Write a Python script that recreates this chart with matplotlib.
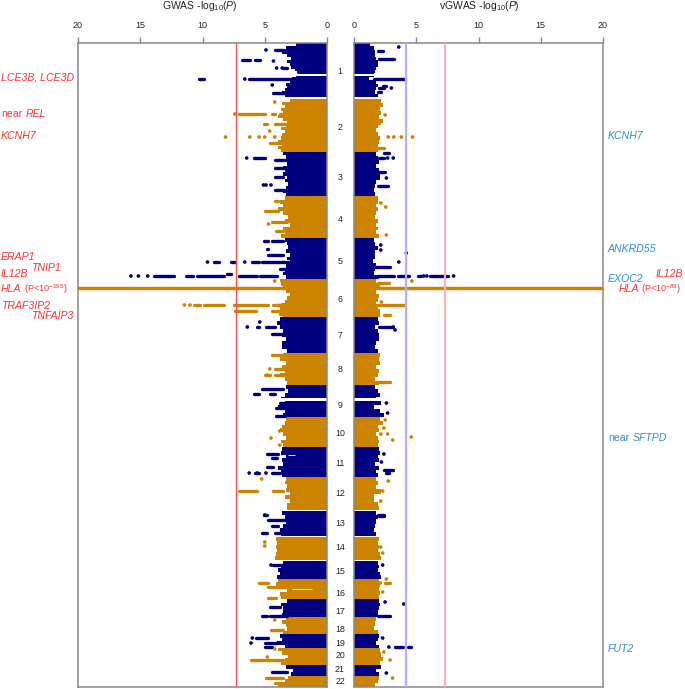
import matplotlib
matplotlib.use("Agg")
import matplotlib.pyplot as plt
import numpy as np

plt.rcParams['font.family'] = ['Liberation Sans', 'DejaVu Sans']
plt.rcParams['mathtext.fontset'] = 'custom'
plt.rcParams['mathtext.rm'] = 'Liberation Sans'
plt.rcParams['mathtext.it'] = 'Liberation Sans:italic'
plt.rcParams['mathtext.default'] = 'regular'

W, H = 685, 689
NAVY, ORANGE = '#000080', '#CC8400'
RED_TXT, BLUE_TXT = '#FF3030', '#2F8BD6'

# chromosome spans along the shared vertical genome axis
chrom_names = [str(i) for i in range(1, 23)]
chrom_start = [43, 99, 152, 196, 238, 279, 317, 353, 385, 417, 447, 477, 511, 537, 561, 579, 599, 617, 634, 648, 665, 676]
chrom_end = [97, 152, 196, 238, 279, 317, 353, 385, 417, 447, 477, 510, 536, 560, 579, 599, 617, 634, 648, 665, 676, 687]
chrom_label_y = [71, 128, 177, 219, 261, 299, 335, 370, 405, 434, 464, 494, 524, 548, 571, 593, 611, 629, 643, 656, 670, 682]
xticks = [0, 5, 10, 15, 20]
gwas_threshold = 7.3
vgwas_thresholds = [4.2, 7.3]

# solid body of each chromosome, from top to bottom, -log10 P
gwas_body = [
    [2.5, 3.3, 3.7, 3.6, 3.2, 2.9, 3.2, 3.0, 2.9, 2.6, 2.4, 2.5, 2.8, 3.0, 3.3, 3.2, 3.4, 3.6, 3.4],
    [3.0, 3.6, 3.4, 3.7, 3.5, 3.9, 3.5, 3.2, 3.3, 3.7, 3.4, 3.6, 3.7, 3.9, 3.6, 3.9, 3.7],
    [3.5, 3.3, 3.4, 3.2, 3.5, 3.4, 3.5, 3.2, 3.4, 3.1, 3.3, 3.5, 3.3],
    [3.4, 3.8, 3.5, 3.9, 3.5, 3.1, 3.4, 3.0, 3.5, 3.4, 3.7],
    [3.4, 3.2, 3.1, 3.3, 3.0, 3.2, 3.0, 3.3, 3.4, 3.5, 3.3],
    [3.8, 3.7, 3.5, 3.3, 3.0, 3.2, 3.4, 3.7, 3.8, 3.6, 3.5],
    [3.8, 4.0, 3.8, 3.5, 3.6, 3.3, 3.6, 3.6, 3.2],
    [3.5, 3.8, 3.3, 3.6, 3.4, 3.8, 3.4, 3.2],
    [3.3, 3.1, 3.4, 3.7, 3.4, 3.9, 3.4, 3.5],
    [3.3, 3.4, 3.6, 3.8, 3.5, 3.3, 3.7, 3.5],
    [3.6, 3.7, 3.3, 3.6, 3.5, 3.9, 3.7, 3.6],
    [3.3, 3.4, 3.2, 3.3, 3.0, 3.4, 3.0, 3.2, 3.2],
    [3.6, 3.4, 3.3, 3.5, 3.8, 3.7],
    [4.1, 4.0, 4.1, 4.0, 4.1, 4.2],
    [3.5, 3.7, 3.9, 3.8, 4.0],
    [3.9, 4.1, 3.8, 3.2, 3.8, 3.7],
    [3.2, 3.7, 3.5, 3.5, 3.6],
    [3.3, 3.6, 3.3, 3.2, 3.5],
    [3.8, 3.6, 4.0, 3.4],
    [3.9, 3.6, 3.1, 3.4, 3.7],
    [3.3, 2.7, 2.9],
    [3.1, 3.4, 3.6, 3.9],
]
vgwas_body = [
    [1.3, 1.6, 1.7, 1.7, 1.8, 1.9, 1.9, 1.8, 1.7, 1.6, 1.2, 1.8, 1.9, 1.8, 1.7, 1.9],
    [2.2, 2.3, 2.1, 2.2, 2.0, 2.3, 1.9, 1.8, 1.9, 2.1, 2.0, 1.9, 1.9],
    [1.8, 1.9, 2.0, 1.8, 2.0, 2.1, 2.1, 1.8, 1.7, 1.6, 1.7],
    [1.9, 1.9, 1.8, 1.9, 1.8, 1.7, 1.9, 1.8, 1.9, 1.8, 2.0],
    [1.6, 1.7, 1.9, 1.7, 1.7, 1.5, 1.8, 1.7, 1.6, 2.0],
    [1.8, 2.1, 2.3, 1.8, 2.0, 1.9, 1.8, 1.9, 2.1, 2.1],
    [1.9, 2.0, 1.7, 1.9, 2.0, 2.0, 1.8, 1.7, 1.9],
    [2.1, 2.0, 2.1, 1.8, 2.0, 1.9, 1.7, 2.0],
    [1.7, 1.9, 2.1, 1.8, 2.2, 1.6, 2.1, 2.4],
    [2.1, 2.3, 1.9, 2.0, 1.8, 1.9, 2.0, 1.9],
    [2.0, 2.1, 1.9, 2.0, 1.7, 2.0, 1.8, 1.9],
    [1.8, 1.9, 1.8, 2.2, 1.6, 1.6, 1.9, 2.0],
    [1.8, 1.9, 1.8, 1.7, 1.6, 1.8],
    [2.0, 1.9, 2.0, 1.9, 2.1, 2.2],
    [1.9, 2.0, 1.9, 2.1, 2.2],
    [2.0, 2.1, 2.0, 2.1, 2.0],
    [2.0, 2.1, 2.0, 1.9, 1.9],
    [1.8, 1.7, 1.6, 1.9],
    [2.0, 1.9, 1.8, 2.0],
    [2.1, 2.2, 2.3, 2.1],
    [2.2, 1.8, 2.0],
    [2.0, 1.9, 1.7],
]

# runs of overlapping points: (genome position, from, to)
gwas_runs = [
    (50, 4.2, 3.5), (50, 3.2, 3.0), (60, 6.8, 6.2), (60, 5.8, 5.4), (68, 3.5, 3.2), (79, 10.3, 9.9), (79, 6.3, 2.7),
    (93, 4.3, 3.4), (114, 7.05, 5.0), (114, 4.4, 4.2), (114, 3.8, 3.4), (124, 5.1, 4.85), (124, 4.2, 3.2), (143, 4.6, 3.3),
    (158, 5.85, 5.0), (160, 4.2, 3.4), (168, 4.2, 3.4), (177, 4.2, 3.5), (190, 4.2, 3.4), (201, 4.2, 3.9), (211, 5.0, 3.9),
    (222, 4.4, 3.2), (231, 4.1, 3.5), (241, 5.1, 4.75), (241, 4.4, 3.5), (249, 4.85, 4.7), (255, 4.7, 3.5),
    (262, 9.1, 8.7), (262, 7.7, 7.4), (262, 6.0, 5.5), (262, 5.25, 3.0), (269, 3.8, 3.2), (276, 13.9, 12.3), (276, 11.3, 10.8),
    (276, 10.45, 8.3), (274, 8.05, 7.75), (276, 7.1, 5.65), (276, 5.4, 4.0), (305, 10.7, 10.2), (305, 9.9, 8.3), (305, 7.45, 4.7),
    (305, 4.3, 3.5), (305, 3.9, 3.3), (311, 7.4, 5.7), (311, 4.4, 3.5), (314, 3.8, 3.4), (327, 5.65, 5.45), (327, 4.9, 4.2),
    (334, 4.4, 3.5), (355, 4.45, 3.5), (369, 4.2, 3.2), (375, 5.0, 4.6), (375, 4.2, 3.4), (389, 5.2, 3.5), (394, 5.9, 5.5),
    (394, 4.6, 4.2), (403, 3.8, 3.3), (408, 4.1, 3.3), (416, 4.1, 3.4), (454, 4.85, 3.9), (458, 4.4, 4.0), (467, 4.8, 4.3),
    (473, 5.8, 5.45), (473, 4.4, 3.8), (491, 7.1, 5.6), (491, 4.3, 3.5), (515, 5.1, 4.85), (520, 4.7, 3.2), (526, 4.4, 3.9),
    (533, 5.25, 4.85), (533, 4.2, 3.8), (565, 4.3, 3.0), (583, 5.5, 4.7), (587, 4.7, 4.3), (587, 4.3, 3.6), (598, 4.7, 4.1),
    (607, 4.6, 3.8), (616, 5.25, 4.85), (616, 4.6, 3.2), (630, 4.5, 3.5), (638, 5.7, 4.7), (643, 5.0, 4.0), (647, 5.0, 4.4),
    (660, 6.1, 5.1), (660, 4.9, 3.5), (672, 4.4, 3.2), (678, 4.9, 3.5), (683, 4.2, 3.6),
]
# single points: (genome position, value)
gwas_points = [
    (50, 4.9), (61, 4.3), (68, 4.05), (68, 3.6), (85, 4.4), (79, 6.6), (102, 4.2), (114, 7.4), (131, 4.6), (137, 8.15),
    (137, 6.2), (137, 5.45), (137, 5.0), (137, 4.2), (158, 6.45), (185, 5.1), (185, 4.9), (185, 4.5), (224, 4.7),
    (262, 9.6), (262, 6.6), (276, 15.75), (276, 15.15), (276, 14.4), (281, 4.2), (305, 11.45), (305, 11.0), (322, 5.4),
    (327, 6.4), (369, 4.6), (375, 4.8), (431, 3.8), (438, 4.5), (445, 3.8), (473, 6.25), (473, 5.6), (473, 4.9),
    (479, 5.25), (515, 5.0), (542, 5.0), (546, 5.0), (565, 4.5), (620, 4.2), (638, 6.0), (643, 6.1), (649, 4.2), (657, 4.8),
]
vgwas_runs = [
    (51, 1.9, 2.35), (59, 2.0, 3.2), (79, 1.6, 4.1), (86, 2.3, 2.6), (88, 2.0, 2.4), (92, 1.9, 2.2), (123, 1.6, 2.0),
    (148, 1.9, 2.4), (153, 2.4, 2.85), (158, 2.0, 2.4), (172, 1.8, 2.5), (186, 1.9, 2.7), (267, 1.6, 2.9), (276, 1.9, 3.2),
    (276, 3.5, 4.45), (276, 5.15, 5.4), (276, 6.1, 7.55), (283, 1.9, 2.85), (305, 1.5, 4.0), (315, 2.4, 2.9), (327, 2.0, 3.1),
    (382, 1.9, 2.9), (470, 2.4, 3.1), (473, 2.6, 2.8), (515, 1.9, 2.4), (516, 2.0, 2.4), (583, 2.5, 2.9), (616, 1.9, 2.9),
    (647, 3.3, 3.9), (647, 4.3, 4.6),
]
vgwas_points = [
    (47, 3.6), (88, 3.0), (115, 2.5), (137, 2.75), (137, 3.2), (137, 3.8), (137, 4.7), (158, 2.7), (158, 3.15), (178, 2.6),
    (203, 2.15), (207, 2.55), (235, 2.6), (245, 2.15), (250, 2.15), (253, 4.2), (262, 3.6), (276, 5.6), (276, 5.85), (276, 8.0),
    (281, 4.65), (302, 2.2), (327, 3.15), (330, 3.3), (403, 2.6), (413, 2.7), (420, 2.5), (428, 2.4), (434, 2.15), (434, 2.7),
    (437, 4.6), (440, 3.1), (454, 2.4), (462, 2.2), (481, 2.75), (491, 2.3), (501, 2.15), (547, 2.15), (553, 2.3), (565, 2.3),
    (579, 2.6), (583, 2.1), (592, 2.3), (602, 2.5), (604, 4.0), (638, 2.3), (647, 2.8), (652, 2.4), (660, 2.9), (673, 2.6), (678, 3.1),
]

# the HLA signal runs off the scale
hla_y = 287.5
hla_to = 25
# white breaks in the body: (top, bottom)
body_breaks = [(73.5, 76), (397.5, 401)]
# thin white gaps in the body of the left panel: (genome position, from, to)
gwas_gaps = [(589, 1.2, 2.8), (455, 2.6, 3.1), (73, 2.4, 3.0)]

# gene labels: (text, x, y)
left_genes = [('LCE3B, LCE3D', 1, 78), ('REL', 26, 114), ('KCNH7', 1, 136), ('ERAP1', 1, 257), ('TNIP1', 31, 268),
              ('IL12B', 1, 274), ('HLA', 1, 289), ('TRAF3IP2', 1, 306), ('TNFAIP3', 31, 316),
              ('IL12B', 656, 274), ('HLA', 619, 289)]
red_near = [('near', 1, 114)]
red_plain = [('(P<10$^{-195}$)', 24, 289), ('(P<10$^{-83}$)', 641, 289)]
blue_genes = [('KCNH7', 608, 136), ('ANKRD55', 608, 249), ('EXOC2', 608, 279), ('SFTPD', 633, 438), ('FUT2', 608, 649)]
blue_plain = [('near', 608, 438)]


def chrom_color(y):
    for i, e in enumerate(chrom_end):
        if y < e:
            return NAVY if i % 2 == 0 else ORANGE
    return ORANGE


def panel(ax, body, runs, points):
    for i, vals in enumerate(body):
        edges = np.linspace(chrom_start[i], chrom_end[i], len(vals) + 1)
        ax.fill_betweenx(edges, 0, list(vals) + [vals[-1]], step='post',
                         color=NAVY if i % 2 == 0 else ORANGE, lw=0, zorder=2)
    for t, b in body_breaks:
        ax.fill_between([0, 6], t, b, color='white', lw=0, zorder=2.5)
    for y, a, b in runs:
        ax.hlines(y, a, b, colors=chrom_color(y), lw=2.4, capstyle='round', zorder=3)
    ax.scatter([p[1] for p in points], [p[0] for p in points], s=7,
               c=[chrom_color(p[0]) for p in points], linewidths=0, zorder=3)
    ax.hlines(hla_y, 0, hla_to, colors=ORANGE, lw=2.5, zorder=3)
    ax.set_ylim(687, 43)
    ax.set_yticks([])
    ax.set_xticks(xticks)
    ax.xaxis.tick_top()
    ax.tick_params(axis='x', length=4.5, width=1, color='#888888', labelsize=6.5, pad=5.2, labelcolor='#222222')
    for sp in ax.spines.values():
        sp.set_color('#888888')
        sp.set_linewidth(1.1)


fig = plt.figure(figsize=(W / 100, H / 100), dpi=100)
axl = fig.add_axes([78 / W, 1 - 687 / H, 249 / W, 644 / H])
axr = fig.add_axes([354 / W, 1 - 687 / H, 249 / W, 644 / H])

panel(axl, gwas_body, gwas_runs, gwas_points)
for y, a, b in gwas_gaps:
    axl.hlines(y, a, b, colors='white', lw=0.6, zorder=4)
panel(axr, vgwas_body, vgwas_runs, vgwas_points)
axl.set_xlim(20, 0)
axr.set_xlim(0, 20)

axl.axvline(gwas_threshold, color='#FF5050', lw=1, zorder=4)
axr.axvline(vgwas_thresholds[0], color='#B0B0FF', lw=1.6, zorder=4)
axr.axvline(vgwas_thresholds[1], color='#FFB0B0', lw=1.6, zorder=4)


def put(text, x, y, color='#222222', size=7.6, ha='left', style='normal'):
    fig.text(x / W, 1 - y / H, text, color=color, fontsize=size, ha=ha, va='center', style=style)


put('GWAS -log$_{10}$($\\mathit{P}$)', 200, 6, ha='center', size=7.5)
put('vGWAS -log$_{10}$($\\mathit{P}$)', 479, 6, ha='center', size=7.5)
for name, y in zip(chrom_names, chrom_label_y):
    put(name, 340, y, ha='center', size=6.3)
for t, x, y in left_genes:
    put(t, x, y, color=RED_TXT, style='italic')
for t, x, y in red_near:
    put(t, x, y, color=RED_TXT)
for t, x, y in red_plain:
    put(t, x, y, color=RED_TXT, size=6.6)
for t, x, y in blue_genes:
    put(t, x, y, color=BLUE_TXT, style='italic')
for t, x, y in blue_plain:
    put(t, x, y, color=BLUE_TXT)

fig.savefig('out.png', dpi=100)
